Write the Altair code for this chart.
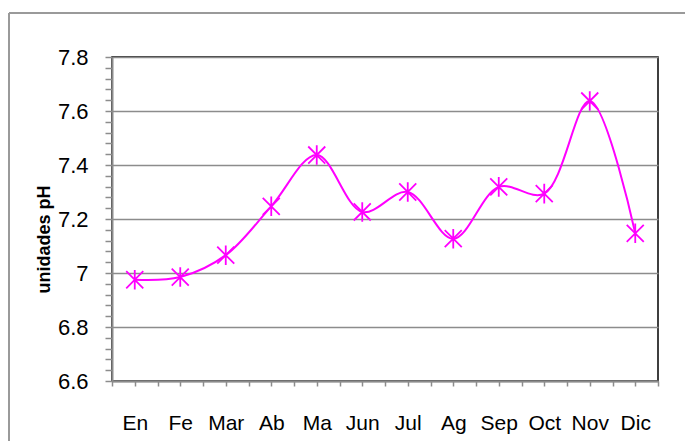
import altair as alt
import pandas as pd

months = ["En", "Fe", "Mar", "Ab", "Ma", "Jun", "Jul", "Ag", "Sep", "Oct", "Nov", "Dic"]
ph = [6.975, 6.985, 7.066, 7.247, 7.437, 7.226, 7.300, 7.127, 7.319, 7.294, 7.637, 7.147]

df = pd.DataFrame({"idx": list(range(len(months))), "mes": months, "ph": ph})

y_ticks = [round(6.6 + 0.04 * i, 2) for i in range(31)]
x_ticks = [i * 0.5 - 0.5 for i in range(25)]
month_arr = "[" + ",".join("'" + m + "'" for m in months) + "]"
x_label_expr = "datum.value % 1 == 0 ? " + month_arr + "[datum.value] : ''"
major_test = "abs(datum.value * 5 - round(datum.value * 5)) < 0.001"

FONT = "Liberation Sans"
MAG = "#FF00FF"

x_enc = alt.X(
    "idx:Q",
    scale=alt.Scale(domain=[-0.5, 11.5], nice=False, zero=False),
    axis=alt.Axis(
        values=x_ticks,
        tickCount=200,
        labelExpr=x_label_expr,
        title=None,
        grid=False,
        domainColor="#8c8c8c",
        domainWidth=2,
        tickColor="#8c8c8c",
        tickWidth=1.5,
        tickSize=5,
        labelPadding=26,
        labelFontSize=21,
        labelFont=FONT,
        labelColor="#000000",
        labelFlush=False,
        labelOverlap=False,
    ),
)

y_enc = alt.Y(
    "ph:Q",
    scale=alt.Scale(domain=[6.6, 7.8], nice=False, zero=False),
    axis=alt.Axis(
        values=y_ticks,
        tickCount=200,
        labelExpr="(" + major_test + ") ? format(datum.value, '~g') : ''",
        title="unidades pH",
        titleFont=FONT,
        titleFontSize=18,
        titleFontWeight="bold",
        titleColor="#000000",
        titleAngle=-90,
        titleAlign="center",
        titleBaseline="middle",
        titleX=-68,
        titleY=182,
        grid=True,
        gridColor="#8c8c8c",
        gridWidth=1.5,
        gridOpacity={"condition": {"test": major_test, "value": 1}, "value": 0},
        domainColor="#8c8c8c",
        domainWidth=2,
        tickColor="#8c8c8c",
        tickWidth=1.5,
        tickSize=7,
        labelPadding=17,
        labelFontSize=22,
        labelFont=FONT,
        labelColor="#000000",
        labelFlush=False,
        labelOverlap=False,
    ),
)

line = alt.Chart(df).mark_line(
    color=MAG, strokeWidth=2, interpolate="catmull-rom"
).encode(x=x_enc, y=y_enc)

pts = alt.Chart(df).mark_point(
    shape="M-1,-1L1,1M-1,1L1,-1M0,-1.15L0,1.15",
    filled=False,
    size=290,
    color=MAG,
    strokeWidth=1.8,
    opacity=1,
).encode(x="idx:Q", y="ph:Q")

frame_left = alt.Chart(df).mark_rule(color="#9a9a9a", strokeWidth=2).encode(
    x=alt.value(-103), y=alt.value(-44), y2=alt.value(440)
)
frame_top = alt.Chart(df).mark_rule(color="#9a9a9a", strokeWidth=2).encode(
    x=alt.value(-103), x2=alt.value(700), y=alt.value(-44)
)

chart = (
    alt.layer(frame_left, frame_top, line, pts)
    .properties(
        width=546,
        height=324,
        autosize=alt.AutoSizeParams(type="none"),
        padding={"left": 104, "top": 49, "right": 27, "bottom": 64},
        background="#ffffff",
    )
    .configure_view(stroke="#000000", strokeWidth=1.5)
)

chart.save("out.html", embed_options={"renderer": "svg", "actions": False})
